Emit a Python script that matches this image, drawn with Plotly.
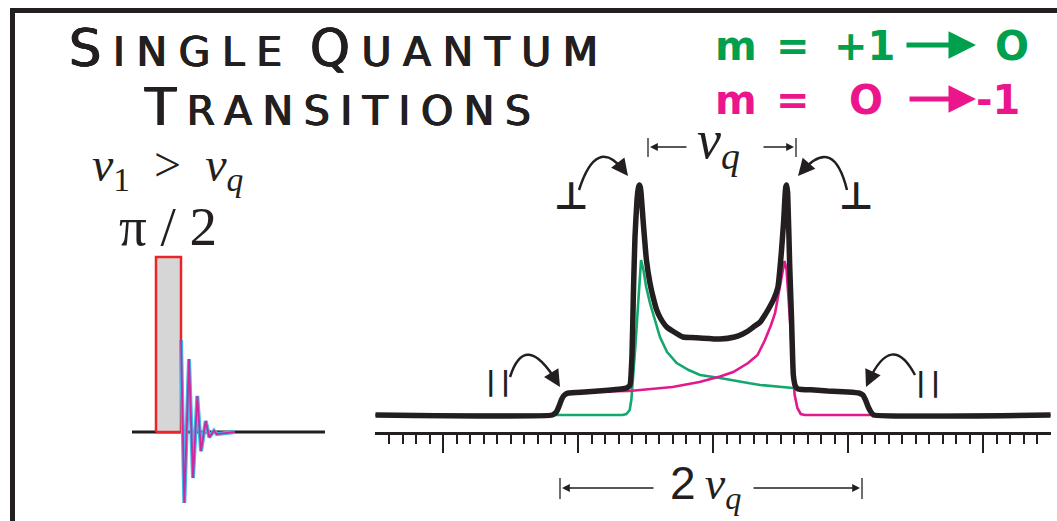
import math
import plotly.graph_objects as go

W, H = 1057, 521

# ---------------- data ----------------
# spectrum: frequency offset (minor-tick units) and intensity (a.u.)
freq_green = [-25.0, -6.7, -6.42, -6.17, -6.05, -5.9, -5.75, -5.6, -5.45, -5.33,
              -5.15, -4.95, -4.67, -4.17, -3.93, -3.4, -2.69, -1.8, -0.96, 0.52,
              1.5, 2.6, 3.5, 4.5, 5.93, 7.0, 8.67, 10.0, 10.9, 11.2,
              11.45, 11.7, 11.95, 25.0]
int_green = [0, 0, 1, 5, 15, 38, 69, 100, 131, 155,
             145, 128, 112, 88, 78, 63, 52, 45, 40, 37,
             35, 32, 30, 28.5, 27, 26, 24.5, 23, 22, 19,
             11, 3, 0, 0]

freq_magenta = [-25.0, -12.1, -11.8, -11.55, -11.3, -11.1, -10.9, -10.0, -8.5, -6.2,
                -5.0, -3.0, -1.0, 0.52, 1.5, 2.6, 3.3, 3.85, 4.3, 4.6,
                4.95, 5.2, 5.3, 5.45, 5.6, 5.75, 5.9, 6.05, 6.25, 6.5,
                6.8, 25.0]
int_magenta = [0, 0, 1, 5, 12, 18, 21, 22.5, 23.5, 24,
               25.5, 28, 33, 38.5, 43, 52, 60, 75, 90, 102,
               128, 148, 154, 145, 118, 85, 45, 20, 7, 1,
               0, 0]

freq_total = [-25.0, -11.9, -11.6, -11.4, -11.2, -11.0, -10.7, -9.5, -8.0, -6.8,
              -6.4, -6.15, -6.0, -5.9, -5.78, -5.63, -5.53, -5.46, -5.39, -5.33,
              -5.18, -4.93, -4.67, -4.4, -4.17, -3.9, -3.43, -3.0, -2.22, -1.6,
              -0.96, 0.52, 1.6, 2.2, 2.6, 3.0, 3.5, 3.8, 4.07, 4.5,
              4.81, 5.06, 5.24, 5.33, 5.39, 5.46, 5.53, 5.68, 5.82, 5.95,
              6.1, 6.3, 7.5, 8.5, 10.0, 10.8, 11.1, 11.3, 11.5, 11.7,
              11.9, 25.0]
int_total = [0, 0, 3, 9, 16, 20, 22, 23, 24.5, 26,
             27, 30, 60, 120, 178, 215, 227, 230, 228, 222,
             195, 155, 132, 116, 105, 97, 88, 84, 78, 77.5,
             77, 76, 78, 81, 84, 88, 93, 99, 105, 116,
             128, 162, 195, 218, 228, 230, 222, 150, 95, 40,
             29, 26, 25, 24, 23, 22, 20, 15, 8, 3,
             0, 0]

ruler_major = [-20, -10, 0, 10, 20]
ruler_minor = list(range(-24, 25))

# pulse sequence (time in pulse-length units, amplitude a.u.)
pulse_start = 0.0
pulse_length = 1.0
pulse_amplitude = 1.0
time_axis = [-0.96, 6.76]
fid_time = [1.0, 1.132, 1.32, 1.48, 1.652, 1.8, 1.988, 2.132, 2.32, 2.43, 3.16]
fid_amp = [0.526, -0.406, 0.417, -0.263, 0.206, -0.109, 0.063, -0.030, 0.007, -0.012, 0.0]

# ---------------- colours ----------------
INK = "#231f20"
GREEN = "#14a86e"
MAGENTA = "#e2198e"
LEG_GREEN = "#00a04e"
LEG_MAGENTA = "#ec168c"

# ---------------- pixel mapping helpers (layout only) ----------------
SPEC_C, SPEC_K, SPEC_BASE = 713.0, 13.5, 415.0
PUL_T0, PUL_K, PUL_BASE, PUL_A = 156.0, 25.0, 432.0, 175.0


def P(x, y):
    return x / W, 1 - y / H


fig = go.Figure()

# pulse diagram (axes x / y)
fig.add_trace(go.Scatter(x=time_axis, y=[0, 0], mode="lines",
                         line=dict(color=INK, width=3), hoverinfo="skip"))
px_ = [pulse_start, pulse_start, pulse_start + pulse_length, pulse_start + pulse_length, pulse_start]
py_ = [0, pulse_amplitude, pulse_amplitude, 0, 0]
fig.add_trace(go.Scatter(x=px_, y=py_, mode="lines", fill="toself",
                         fillcolor="#d6d6d6", line=dict(color="#e8262a", width=2.5),
                         hoverinfo="skip"))
fig.add_trace(go.Scatter(x=fid_time, y=fid_amp, mode="lines",
                         line=dict(color="#3db8ea", width=4), hoverinfo="skip"))
fig.add_trace(go.Scatter(x=fid_time, y=fid_amp, mode="lines",
                         line=dict(color="#d2269c", width=1.8), hoverinfo="skip"))

# spectrum (axes x2 / y2)
fig.add_trace(go.Scatter(x=freq_green, y=int_green, mode="lines", xaxis="x2", yaxis="y2",
                         line=dict(color=GREEN, width=2.6), hoverinfo="skip"))
fig.add_trace(go.Scatter(x=freq_magenta, y=int_magenta, mode="lines", xaxis="x2", yaxis="y2",
                         line=dict(color=MAGENTA, width=2.6), hoverinfo="skip"))
fig.add_trace(go.Scatter(x=freq_total, y=int_total, mode="lines", xaxis="x2", yaxis="y2",
                         line=dict(color=INK, width=5.5, shape="spline", smoothing=0.4),
                         hoverinfo="skip"))

shapes = []
annotations = []


def line(x0, y0, x1, y1, w=1.3, color=INK):
    a, b = P(x0, y0)
    c, d = P(x1, y1)
    shapes.append(dict(type="line", xref="paper", yref="paper", x0=a, y0=b, x1=c, y1=d,
                       line=dict(color=color, width=w)))


def text(x, y, s, size, family="DejaVu Sans", color=INK, xanchor="center", shadow=None):
    a, b = P(x, y)
    font = dict(size=size, family=family, color=color)
    if shadow:
        font["shadow"] = shadow
    annotations.append(dict(x=a, y=b, xref="paper", yref="paper", text=s, showarrow=False,
                            xanchor=xanchor, yanchor="middle", font=font))


def arrow(tipx, tipy, tailx, taily, w=1.3, size=1.2, color=INK):
    a, b = P(tipx, tipy)
    annotations.append(dict(x=a, y=b, xref="paper", yref="paper", text="", showarrow=True,
                            ax=tailx - tipx, ay=taily - tipy, arrowhead=2, arrowsize=size,
                            arrowwidth=w, arrowcolor=color, standoff=0, startstandoff=0))


def curved(p0, apex, p2):
    cx = 2 * apex[0] - 0.5 * (p0[0] + p2[0])
    cy = 2 * apex[1] - 0.5 * (p0[1] + p2[1])
    dx, dy = p2[0] - cx, p2[1] - cy
    n = math.hypot(dx, dy)
    ux, uy = dx / n, dy / n
    ex, ey = p2[0] - ux * 6, p2[1] - uy * 6
    a0, b0 = P(*p0)
    ac, bc = P(cx, cy)
    ae, be = P(ex, ey)
    shapes.append(dict(type="path", xref="paper", yref="paper",
                       path=f"M {a0},{b0} Q {ac},{bc} {ae},{be}",
                       line=dict(color=INK, width=2.5)))
    arrow(p2[0], p2[1], p2[0] - ux * 15, p2[1] - uy * 15, w=2.4, size=1.4)


# frame
line(12, 10.5, W, 10.5, w=5)
line(12.5, 8, 12.5, H, w=5)

# title (small caps)
big, small = 51, 41


def sc(word, ls):
    return (f"<span style='font-size:{big}px;letter-spacing:{ls}px'>{word[0]}</span>"
            f"<span style='font-size:{small}px;letter-spacing:{ls}px'>{word[1:]}</span>")


thick = "0.7px 0 0 #231f20, -0.7px 0 0 #231f20, 0 0.4px 0 #231f20"
text(339, 48, sc("SINGLE", 11.5) + f"<span style='font-size:{big}px'> </span>" + sc("QUANTUM", 11.5),
     big, shadow=thick)
text(342, 107, sc("TRANSITIONS", 10.5), big, shadow=thick)

# legend
text(713, 46, "<b>m</b>", 40, color=LEG_GREEN, xanchor="left")
text(793, 46, "<b>=</b>", 40, color=LEG_GREEN)
text(864, 46, "<b>+1</b>", 40, color=LEG_GREEN)
text(1012, 46, "<b>O</b>", 40, color=LEG_GREEN)
arrow(976, 45, 905, 45, w=5, size=1.1, color=LEG_GREEN)
text(713, 100, "<b>m</b>", 40, color=LEG_MAGENTA, xanchor="left")
text(793, 100, "<b>=</b>", 40, color=LEG_MAGENTA)
text(866, 100, "<b>O</b>", 40, color=LEG_MAGENTA)
text(998, 100, "<b>-1</b>", 40, color=LEG_MAGENTA)
arrow(976, 99, 908, 99, w=5, size=1.1, color=LEG_MAGENTA)

# pulse labels
text(167, 168, "<i>ν</i><sub>1</sub>  >  <i>ν</i><sub><i>q</i></sub>", 48,
     family="Liberation Serif")
text(168, 226, "π / 2", 55, family="Liberation Serif")

# nu_q dimension
text(718, 143, "<i>ν</i><sub><i>q</i></sub>", 54, family="Liberation Serif")
line(648, 138, 648, 157)
line(796, 138, 796, 157)
arrow(650, 147, 688, 147)
arrow(794, 147, 762, 147)

# 2 nu_q dimension
text(705, 486, "<span style='font-family:Liberation Sans'>2</span>\u2009<i>ν</i><sub><i>q</i></sub>",
     46, family="Liberation Serif")
line(560, 478, 560, 499)
line(862, 478, 862, 499)
arrow(562, 488, 655, 488)
arrow(860, 488, 752, 488)

# perpendicular / parallel markers
text(571, 196, "<b>⊥</b>", 38)
text(856, 196, "<b>⊥</b>", 38)
text(498, 381, "<b>|\u2009|</b>", 26)
text(928, 382, "<b>|\u2009|</b>", 26)
curved((579, 190), (600, 159), (628, 176))
curved((847, 190), (828, 159), (798, 176))
curved((510, 377), (530, 356), (560, 387))
curved((915, 375), (891, 356), (866, 387))

fig.update_layout(
    width=W, height=H, margin=dict(l=0, r=0, t=0, b=0),
    paper_bgcolor="white", plot_bgcolor="rgba(0,0,0,0)", showlegend=False,
    xaxis=dict(domain=[0, 1], range=[(0 - PUL_T0) / PUL_K, (W - PUL_T0) / PUL_K],
               visible=False, fixedrange=True),
    yaxis=dict(domain=[0, 1], range=[(PUL_BASE - H) / PUL_A, PUL_BASE / PUL_A],
               visible=False, fixedrange=True),
    xaxis2=dict(domain=[375 / W, 1051 / W],
                range=[(375 - SPEC_C) / SPEC_K, (1051 - SPEC_C) / SPEC_K],
                anchor="free", position=1 - 433 / H, side="bottom",
                showline=True, linecolor=INK, linewidth=2.5,
                showgrid=False, zeroline=False, showticklabels=False,
                tickmode="array", tickvals=ruler_major, ticks="outside",
                ticklen=18, tickwidth=2, tickcolor=INK,
                minor=dict(tickmode="array", tickvals=ruler_minor, ticks="outside",
                           ticklen=9, tickwidth=2, tickcolor=INK, showgrid=False),
                fixedrange=True),
    yaxis2=dict(domain=[0, 1], range=[SPEC_BASE - H, SPEC_BASE], anchor="x2",
                visible=False, fixedrange=True),
    shapes=shapes, annotations=annotations,
)

fig.write_html("out.html")
